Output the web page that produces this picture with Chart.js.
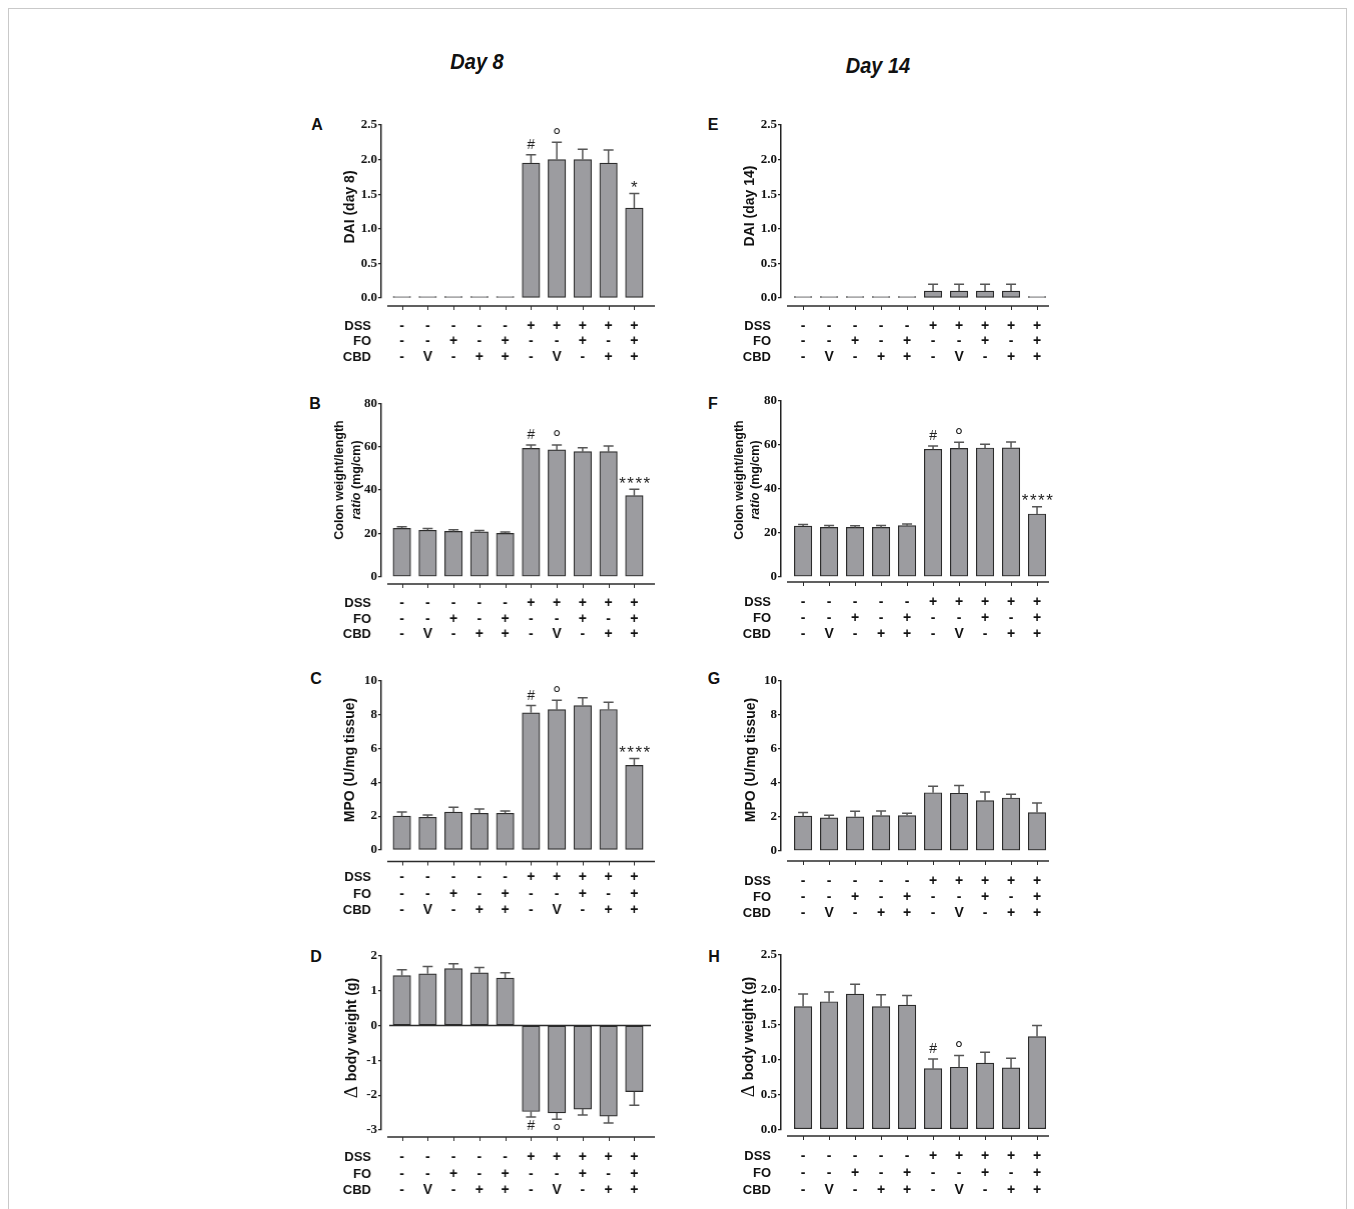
<!DOCTYPE html>
<html>
<head>
<meta charset="utf-8">
<script src="https://cdn.jsdelivr.net/npm/chart.js@4.4.0/dist/chart.umd.min.js"></script>
<style>
  body { margin: 0; background: #fff; }
  #page { position: relative; width: 1354px; height: 1209px; overflow: hidden; background: #fff; }
  .frame { position: absolute; left: 8px; top: 8px; width: 1337px; height: 1240px; border: 1px solid #c9c9c9; }
  .day { position: absolute; font: italic bold 20px "Liberation Sans", Arial, sans-serif; color: #111;
         transform: translate(-50%, -50%) scaleY(1.12); white-space: nowrap; }
  .letter { position: absolute; font: bold 16px "Liberation Sans", Arial, sans-serif; color: #111;
            transform: translate(-50%, -50%); }
  canvas { position: absolute; }
</style>
</head>
<body>
<div id="page">
  <div class="frame"></div>
  <div class="day" style="left:477px; top:62px;">Day 8</div>
  <div class="day" style="left:878px; top:66px;">Day 14</div>
</div>
<script>
"use strict";

// treatment rows under each bar
const dss = ['-', '-', '-', '-', '-', '+', '+', '+', '+', '+'];
const fo  = ['-', '-', '+', '-', '+', '-', '-', '+', '-', '+'];
const cbd = ['-', 'V', '-', '+', '+', '-', 'V', '-', '+', '+'];
const rowNames = ['DSS', 'FO', 'CBD'];

// A - DAI day 8
const dai8      = [0, 0, 0, 0, 0, 1.95, 2.0, 2.0, 1.95, 1.3];
const dai8Sem   = [0, 0, 0, 0, 0, 0.12, 0.25, 0.15, 0.19, 0.21];
const dai8Marks = ['', '', '', '', '', '#', '°', '', '', '*'];

// B - colon weight/length day 8
const colon8      = [22.3, 21.4, 20.9, 20.7, 20.0, 59.2, 58.5, 57.7, 57.7, 37.4];
const colon8Sem   = [0.8, 0.8, 0.8, 0.6, 0.6, 1.6, 2.3, 1.8, 2.6, 2.9];
const colon8Marks = ['', '', '', '', '', '#', '°', '', '', '****'];

// C - MPO day 8
const mpo8      = [2.0, 1.93, 2.24, 2.17, 2.17, 8.1, 8.29, 8.53, 8.3, 5.0];
const mpo8Sem   = [0.24, 0.14, 0.28, 0.25, 0.13, 0.43, 0.55, 0.47, 0.42, 0.41];
const mpo8Marks = ['', '', '', '', '', '#', '°', '', '', '****'];

// D - body weight change day 8
const bw8      = [1.43, 1.48, 1.63, 1.51, 1.36, -2.47, -2.51, -2.4, -2.6, -1.9];
const bw8Sem   = [0.17, 0.21, 0.14, 0.15, 0.15, 0.16, 0.18, 0.17, 0.2, 0.39];
const bw8Marks = ['', '', '', '', '', '#', '°', '', '', ''];

// E - DAI day 14
const dai14      = [0, 0, 0, 0, 0, 0.1, 0.1, 0.1, 0.1, 0];
const dai14Sem   = [0, 0, 0, 0, 0, 0.1, 0.1, 0.1, 0.1, 0];
const dai14Marks = ['', '', '', '', '', '', '', '', '', ''];

// F - colon weight/length day 14
const colon14      = [23.0, 22.4, 22.4, 22.4, 23.2, 57.9, 58.3, 58.5, 58.6, 28.5];
const colon14Sem   = [0.7, 0.9, 0.8, 0.9, 0.7, 1.5, 2.8, 1.7, 2.6, 3.3];
const colon14Marks = ['', '', '', '', '', '#', '°', '', '', '****'];

// G - MPO day 14
const mpo14      = [2.03, 1.93, 1.99, 2.07, 2.07, 3.41, 3.38, 2.95, 3.1, 2.24];
const mpo14Sem   = [0.21, 0.16, 0.33, 0.27, 0.13, 0.38, 0.46, 0.5, 0.22, 0.57];
const mpo14Marks = ['', '', '', '', '', '', '', '', '', ''];

// H - body weight change day 14
const bw14      = [1.76, 1.83, 1.94, 1.76, 1.78, 0.87, 0.89, 0.95, 0.88, 1.33];
const bw14Sem   = [0.18, 0.14, 0.14, 0.17, 0.14, 0.14, 0.17, 0.155, 0.14, 0.16];
const bw14Marks = ['', '', '', '', '', '#', '°', '', '', ''];

// y tick labels
const daiTicks   = [0, 0.5, 1, 1.5, 2, 2.5];
const colonTicks = [0, 20, 40, 60, 80];
const mpoTicks   = [0, 2, 4, 6, 8, 10];
const bw8Ticks   = [-3, -2, -1, 0, 1, 2];
const bw14Ticks  = [0, 0.5, 1, 1.5, 2, 2.5];

const SANS = '"Liberation Sans", Arial, sans-serif';
const SERIF = '"Liberation Serif", "Times New Roman", serif';
const fonts = {
    b: 'bold 14px ' + SANS,
    bs: 'bold 12.5px ' + SANS,
    bi: 'italic bold 12.5px ' + SANS,
    d: '19px ' + SERIF
};

const leftCol = { axisX: 381, plotW: 273.5, xMin: -0.8, xMax: 9.8 };
const rightCol = { axisX: 781, plotW: 268, xMin: -0.85, xMax: 9.46 };

const panels = [
    { letter: 'A', lx: 317, ly: 125, col: leftCol, values: dai8, sem: dai8Sem, marks: dai8Marks, ticks: daiTicks, dec: 1,
      top: 125, bottom: 298, axisY: 306, rowY: [326, 341.5, 357],
      title: [[['DAI (day 8)', 'b']]], titleX: [350], titleY: 207 },
    { letter: 'B', lx: 315, ly: 404, col: leftCol, values: colon8, sem: colon8Sem, marks: colon8Marks, ticks: colonTicks, dec: 0,
      top: 403.3, bottom: 576.7, axisY: 584, rowY: [603, 619, 634.5],
      title: [[['Colon weight/length', 'bs']], [['ratio', 'bi'], [' (mg/cm)', 'bs']]], titleX: [340, 356.5], titleY: 480 },
    { letter: 'C', lx: 316, ly: 679, col: leftCol, values: mpo8, sem: mpo8Sem, marks: mpo8Marks, ticks: mpoTicks, dec: 0,
      top: 680.7, bottom: 850, axisY: 861.5, rowY: [877, 894, 910.5],
      title: [[['MPO (U/mg tissue)', 'b']]], titleX: [350], titleY: 760 },
    { letter: 'D', lx: 316, ly: 957, col: leftCol, values: bw8, sem: bw8Sem, marks: bw8Marks, ticks: bw8Ticks, dec: 0,
      top: 955.7, bottom: 1130, axisY: 1137, rowY: [1157, 1174, 1190.5],
      title: [[['Δ ', 'd'], ['body weight (g)', 'b']]], titleX: [352], titleY: 1038 },
    { letter: 'E', lx: 713, ly: 125, col: rightCol, values: dai14, sem: dai14Sem, marks: dai14Marks, ticks: daiTicks, dec: 1,
      top: 125, bottom: 298, axisY: 306, rowY: [326, 341.5, 357],
      title: [[['DAI (day 14)', 'b']]], titleX: [750.5], titleY: 206 },
    { letter: 'F', lx: 713, ly: 404, col: rightCol, values: colon14, sem: colon14Sem, marks: colon14Marks, ticks: colonTicks, dec: 0,
      top: 400.7, bottom: 576.7, axisY: 582, rowY: [602, 618, 634],
      title: [[['Colon weight/length', 'bs']], [['ratio', 'bi'], [' (mg/cm)', 'bs']]], titleX: [739.5, 756], titleY: 480 },
    { letter: 'G', lx: 714, ly: 679, col: rightCol, values: mpo14, sem: mpo14Sem, marks: mpo14Marks, ticks: mpoTicks, dec: 0,
      top: 680.7, bottom: 850.7, axisY: 861, rowY: [881, 897, 913],
      title: [[['MPO (U/mg tissue)', 'b']]], titleX: [751], titleY: 760 },
    { letter: 'H', lx: 714, ly: 957, col: rightCol, values: bw14, sem: bw14Sem, marks: bw14Marks, ticks: bw14Ticks, dec: 1,
      top: 955, bottom: 1129.3, axisY: 1136, rowY: [1156.5, 1173.5, 1190],
      title: [[['Δ ', 'd'], ['body weight (g)', 'b']]], titleX: [749], titleY: 1037 }
];

function markFont(m) {
    if (m === '°') return '21px ' + SANS;
    if (m[0] === '*') return '17px ' + SANS;
    return '14px ' + SANS;
}

const panelPlugin = {
    id: 'panel',
    afterDatasetsDraw(chart) {
        const p = chart.options.plugins.panel;
        const ctx = chart.ctx;
        const ys = chart.scales.y;
        const area = chart.chartArea;
        const meta = chart.getDatasetMeta(0);
        ctx.save();

        // zero line when the axis goes negative
        if (ys.min < 0) {
            const zy = ys.getPixelForValue(0);
            ctx.strokeStyle = '#2b2b2b';
            ctx.lineWidth = 1.5;
            ctx.beginPath();
            ctx.moveTo(area.left + 8, zy);
            ctx.lineTo(area.right - 4, zy);
            ctx.stroke();
        }

        // error bars (one direction only)
        ctx.strokeStyle = '#555';
        ctx.lineWidth = 1.5;
        p.values.forEach((v, i) => {
            const e = p.sem[i];
            if (!e) return;
            const dir = v < 0 ? -1 : 1;
            const bx = meta.data[i].x;
            const y0 = ys.getPixelForValue(v);
            const y1 = ys.getPixelForValue(v + dir * e);
            ctx.beginPath();
            ctx.moveTo(bx, y0);
            ctx.lineTo(bx, y1);
            ctx.moveTo(bx - 5, y1);
            ctx.lineTo(bx + 5, y1);
            ctx.stroke();
        });

        // significance marks
        ctx.fillStyle = '#222';
        ctx.textAlign = 'center';
        ctx.textBaseline = 'alphabetic';
        p.values.forEach((v, i) => {
            const m = p.marks[i];
            if (!m) return;
            const dir = v < 0 ? -1 : 1;
            const end = ys.getPixelForValue(v + dir * p.sem[i]);
            ctx.font = markFont(m);
            ctx.letterSpacing = m.length > 1 ? '1.5px' : '0px';
            const tm = ctx.measureText(m);
            const mid = (tm.actualBoundingBoxAscent - tm.actualBoundingBoxDescent) / 2;
            let gap = m[0] === '*' ? 9.5 : 11;
            if (dir < 0) gap = 8;
            const cy = end - dir * gap;
            ctx.fillText(m, meta.data[i].x + (m.length > 1 ? 1 : 0), cy + mid);
        });
        ctx.letterSpacing = '0px';
        ctx.restore();
    },
    afterDraw(chart) {
        const p = chart.options.plugins.panel;
        const ctx = chart.ctx;
        const xs = chart.scales.x;
        const area = chart.chartArea;
        ctx.save();

        // detached x axis line with small ticks
        ctx.strokeStyle = '#2b2b2b';
        ctx.lineWidth = 1.5;
        ctx.beginPath();
        ctx.moveTo(area.left + 6, p.axisY);
        ctx.lineTo(area.right, p.axisY);
        ctx.stroke();
        ctx.lineWidth = 1;
        ctx.beginPath();
        for (let i = 0; i < p.values.length; i++) {
            const tx = Math.round(xs.getPixelForValue(i)) + 0.5;
            ctx.moveTo(tx, p.axisY);
            ctx.lineTo(tx, p.axisY + 4);
        }
        ctx.stroke();

        // DSS / FO / CBD rows
        ctx.fillStyle = '#111';
        ctx.textBaseline = 'middle';
        p.rows.forEach((row, r) => {
            const ry = p.rowY[r];
            ctx.font = 'bold 13px ' + SANS;
            ctx.textAlign = 'right';
            ctx.fillText(rowNames[r], area.left - 10, ry);
            ctx.textAlign = 'center';
            ctx.font = 'bold 14px ' + SANS;
            row.forEach((s, i) => ctx.fillText(s, xs.getPixelForValue(i), ry));
        });

        // rotated y title, lines may mix styles
        p.title.forEach((line, li) => {
            let total = 0;
            line.forEach(([t, f]) => { ctx.font = fonts[f]; total += ctx.measureText(t).width; });
            ctx.save();
            ctx.translate(p.titleX[li], p.titleY);
            ctx.rotate(-Math.PI / 2);
            ctx.textAlign = 'left';
            ctx.textBaseline = 'middle';
            let cx = -total / 2;
            line.forEach(([t, f]) => {
                ctx.font = fonts[f];
                ctx.fillText(t, cx, 0);
                cx += ctx.measureText(t).width;
            });
            ctx.restore();
        });
        ctx.restore();
    }
};

const page = document.getElementById('page');

panels.forEach(pn => {
    const col = pn.col;
    const cLeft = col.axisX - 80;
    const cTop = Math.floor(pn.top) - 20;
    const cW = 80 + col.plotW + 30;
    const cH = Math.ceil(pn.rowY[2] + 12) - cTop;

    const letter = document.createElement('div');
    letter.className = 'letter';
    letter.style.left = pn.lx + 'px';
    letter.style.top = pn.ly + 'px';
    letter.textContent = pn.letter;
    page.appendChild(letter);

    const canvas = document.createElement('canvas');
    canvas.width = cW;
    canvas.height = cH;
    canvas.style.left = cLeft + 'px';
    canvas.style.top = cTop + 'px';
    canvas.style.width = cW + 'px';
    canvas.style.height = cH + 'px';
    page.appendChild(canvas);

    new Chart(canvas, {
        type: 'bar',
        data: {
            datasets: [{
                data: pn.values.map((v, i) => ({ x: i, y: v })),
                backgroundColor: '#9c9ca0',
                borderColor: '#2b2b2b',
                borderWidth: 1.2,
                borderSkipped: false,
                barThickness: 17.5,
                minBarLength: 1.5
            }]
        },
        options: {
            responsive: false,
            animation: false,
            devicePixelRatio: 1,
            layout: {
                padding: { left: 0, top: pn.top - cTop, right: 30, bottom: cH - (pn.bottom - cTop) }
            },
            plugins: {
                legend: { display: false },
                tooltip: { enabled: false },
                panel: {
                    values: pn.values,
                    sem: pn.sem,
                    marks: pn.marks,
                    rows: [dss, fo, cbd],
                    rowY: pn.rowY.map(v => v - cTop),
                    axisY: pn.axisY - cTop,
                    title: pn.title,
                    titleX: pn.titleX.map(v => v - cLeft),
                    titleY: pn.titleY - cTop
                }
            },
            scales: {
                x: {
                    type: 'linear',
                    display: false,
                    offset: false,
                    min: col.xMin,
                    max: col.xMax
                },
                y: {
                    min: pn.ticks[0],
                    max: pn.ticks[pn.ticks.length - 1],
                    afterFit(scale) { scale.width = 80; },
                    afterBuildTicks(scale) { scale.ticks = pn.ticks.map(v => ({ value: v })); },
                    border: { display: true, color: '#222', width: 1.5 },
                    grid: { drawOnChartArea: false, drawTicks: true, tickLength: 3, color: '#222', lineWidth: 1.2 },
                    ticks: {
                        padding: 1,
                        color: '#111',
                        font: { family: 'Liberation Serif', weight: 'bold', size: 13 },
                        callback: v => Number(v).toFixed(pn.dec)
                    }
                }
            }
        },
        plugins: [panelPlugin]
    });
});
</script>
</body>
</html>
